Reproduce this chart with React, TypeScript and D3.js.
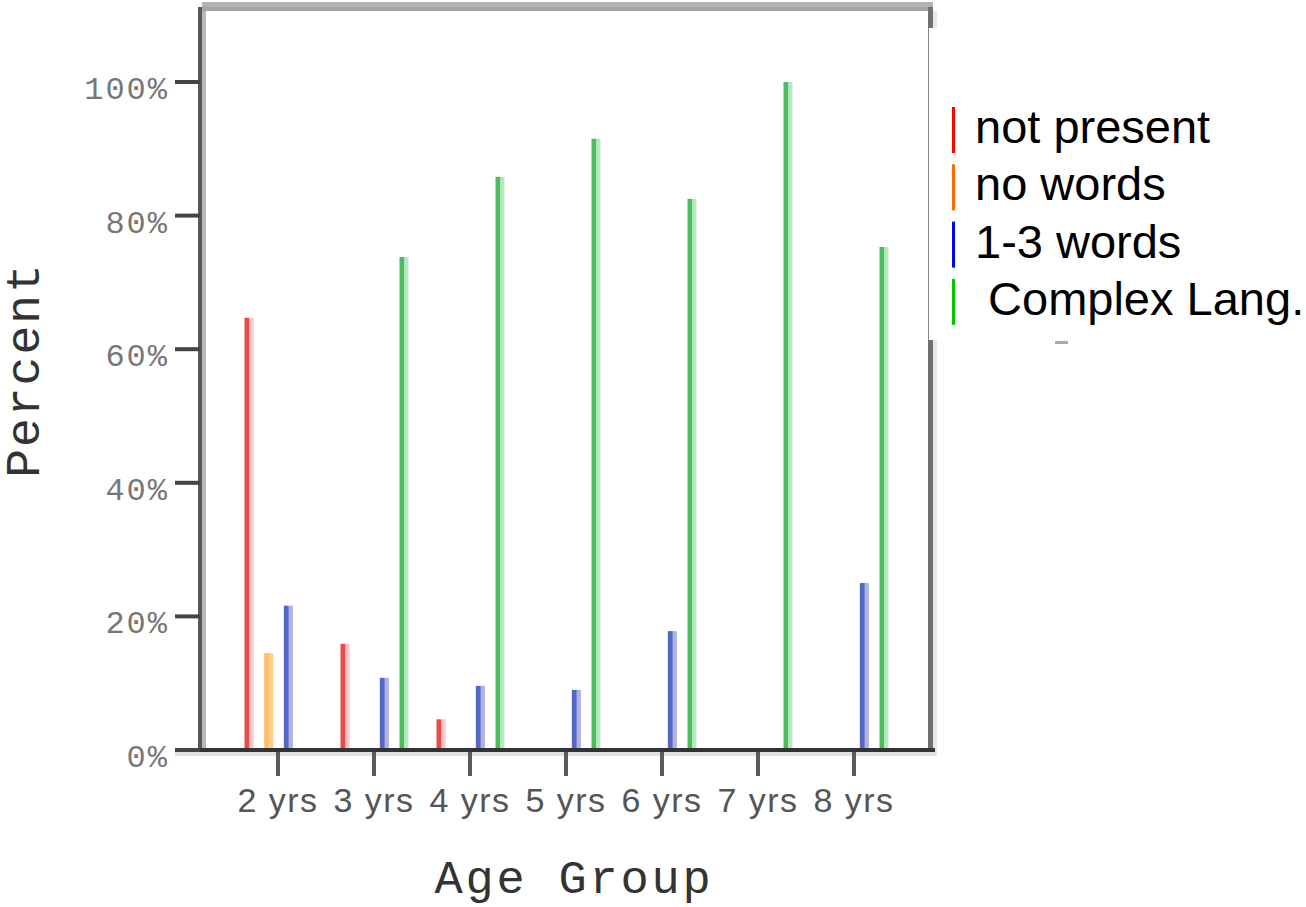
import React from "react";
import * as d3 from "d3";

const categories = ["2 yrs", "3 yrs", "4 yrs", "5 yrs", "6 yrs", "7 yrs", "8 yrs"];
const seriesNames = ["not present", "no words", "1-3 words", " Complex Lang."];
const notPresent = [64.7, 15.9, 4.6, 0, 0, 0, 0];
const noWords = [14.5, 0, 0, 0, 0, 0, 0];
const oneToThree = [21.6, 10.8, 9.6, 9.0, 17.8, 0, 25.0];
const complexLang = [0, 73.8, 85.8, 91.5, 82.5, 100, 75.3];
const yTicks = [0, 20, 40, 60, 80, 100];

const seriesValues = [notPresent, noWords, oneToThree, complexLang];
const darkColors = ["#ec4848", "#ffbf68", "#5566c4", "#4cbd5e"];
const lightColors = ["#f8c6c6", "#ffcf8a", "#aab2e2", "#bce5c4"];
const legendColors = ["#ff0000", "#ff6a00", "#0000ff", "#00c800"];

export default function App() {
  const W = 1306, H = 907;
  const y = d3.scaleLinear().domain([0, 100]).range([750, 82]);
  const x = d3.scalePoint<string>().domain(categories).range([278, 854]);
  const off = d3.scalePoint<string>().domain(seriesNames).range([-29, 30]);
  const barW = 9;
  const mono = "'Liberation Mono', 'DejaVu Sans Mono', monospace";
  const sans = "'Liberation Sans', Arial, sans-serif";

  return (
    <svg width={W} height={H} style={{ position: "absolute", left: 0, top: 0, background: "#fff" }}>
      {/* frame */}
      <rect x={202} y={2} width={731} height={5} fill="#b2b2b2" />
      <rect x={202} y={7} width={731} height={4} fill="#a6a6a6" />
      <rect x={198} y={7} width={4} height={745} fill="#585858" />
      <rect x={202} y={11} width={4} height={739} fill="#b8b8b8" />
      <rect x={928} y={7} width={5} height={745} fill="#707070" />
      <rect x={933} y={11} width={4} height={745} fill="#e8e8e8" />

      {/* bars */}
      {seriesNames.map((s, si) =>
        categories.map((c, ci) => {
          const v = seriesValues[si][ci];
          if (v <= 0) return null;
          const cx = (x(c) as number) + (off(s) as number);
          const top = y(v);
          const h = y(0) - top;
          return (
            <g key={s + c}>
              <rect x={cx - barW / 2} y={top} width={5} height={h} fill={darkColors[si]} />
              <rect x={cx - barW / 2 + 5} y={top} width={barW - 5} height={h} fill={lightColors[si]} />
            </g>
          );
        })
      )}

      {/* baseline */}
      <rect x={175} y={748} width={760} height={4} fill="#333" />
      <rect x={175} y={752} width={760} height={4} fill="#e0e0e0" />

      {/* y ticks */}
      {yTicks.map((t) => (
        <g key={t}>
          <rect x={175} y={y(t) - 2} width={25} height={4} fill="#444" />
          <text
            x={169}
            y={y(t) + 17}
            textAnchor="end"
            fontFamily={mono}
            fontSize={32}
            letterSpacing={2}
            fill="#777"
          >
            {t + "%"}
          </text>
        </g>
      ))}

      {/* x ticks */}
      {categories.map((c) => (
        <g key={c}>
          <rect x={(x(c) as number) - 2} y={752} width={4} height={24} fill="#5a5a5a" />
          <text
            x={x(c) as number}
            y={812}
            textAnchor="middle"
            fontFamily={sans}
            fontSize={34}
            letterSpacing={1.5}
            fill="#555"
          >
            {c}
          </text>
        </g>
      ))}

      {/* axis titles */}
      <text x={574} y={893} textAnchor="middle" fontFamily={mono} fontSize={47} letterSpacing={2.8} fill="#333">
        Age Group
      </text>
      <text
        transform="translate(39,370) rotate(-90)"
        textAnchor="middle"
        fontFamily={mono}
        fontSize={48}
        letterSpacing={2}
        fill="#333"
      >
        Percent
      </text>

      {/* legend */}
      <rect x={929} y={28} width={377} height={312} fill="#fff" />
      <rect x={928} y={28} width={1} height={312} fill="#888" />
      <rect x={1055} y={341} width={13} height={3} fill="#aaa" />
      {seriesNames.map((s, i) => {
        const base = 143 + i * 57.3;
        return (
          <g key={s}>
            <rect x={952} y={base - 36} width={3} height={46} fill={legendColors[i]} />
            <text x={975} y={base} fontFamily={sans} fontSize={47} fill="#000" style={{ whiteSpace: "pre" }}>
              {s}
            </text>
          </g>
        );
      })}
    </svg>
  );
}
